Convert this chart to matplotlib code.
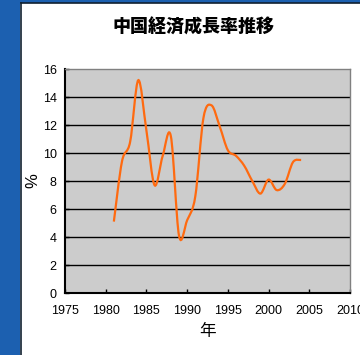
import matplotlib
matplotlib.use("Agg")
import matplotlib.pyplot as plt
from matplotlib.path import Path
from matplotlib.patches import PathPatch, Rectangle
from matplotlib.lines import Line2D

# 中国の実質GDP成長率
years = [1981, 1982, 1983, 1984, 1985, 1986, 1987, 1988, 1989, 1990, 1991, 1992,
         1993, 1994, 1995, 1996, 1997, 1998, 1999, 2000, 2001, 2002, 2003, 2004]
growth = [5.1, 9.4, 10.8, 15.2, 11.6, 7.7, 9.8, 11.2, 4.1, 5.2, 6.9, 12.5,
          13.4, 11.9, 10.2, 9.8, 9.1, 8.0, 7.1, 8.1, 7.35, 7.8, 9.35, 9.5]
xticks = [1975, 1980, 1985, 1990, 1995, 2000, 2005, 2010]
yticks = [0, 2, 4, 6, 8, 10, 12, 14, 16]

title = "中国経済成長率推移"
cjk = ["Noto Sans CJK JP", "DejaVu Sans"]
narrow = ["Liberation Sans Narrow", "Liberation Sans"]


def smooth_path(xs, ys):
    # Excel風のスムージング (ベジェ曲線)
    pts = list(zip(xs, ys))
    n = len(pts)
    verts = [pts[0]]
    codes = [Path.MOVETO]
    for i in range(n - 1):
        p0 = pts[i - 1] if i > 0 else pts[i]
        p1 = pts[i]
        p2 = pts[i + 1]
        p3 = pts[i + 2] if i + 2 < n else pts[i + 1]
        c1 = (p1[0] + (p2[0] - p0[0]) / 6, p1[1] + (p2[1] - p0[1]) / 6)
        c2 = (p2[0] - (p3[0] - p1[0]) / 6, p2[1] - (p3[1] - p1[1]) / 6)
        verts += [c1, c2, p2]
        codes += [Path.CURVE4] * 3
    return Path(verts, codes)


fig = plt.figure(figsize=(3.6, 3.55), dpi=100, facecolor="white")

# 左と上の青い帯
fig.patches.append(Rectangle((0, 0), 20 / 360, 1, transform=fig.transFigure,
                             facecolor="#1c60b0", edgecolor="none", zorder=0))
fig.patches.append(Rectangle((0, 1 - 2.5 / 355), 1, 2.5 / 355, transform=fig.transFigure,
                             facecolor="#1c60b0", edgecolor="none", zorder=0))
fig.lines.append(Line2D([20.8 / 360, 20.8 / 360], [0, 1 - 2.5 / 355], transform=fig.transFigure,
                        color="#102030", lw=1.2))
fig.lines.append(Line2D([20.8 / 360, 1], [1 - 2.8 / 355, 1 - 2.8 / 355], transform=fig.transFigure,
                        color="#102030", lw=1.2))

ax = fig.add_axes([65 / 360, 62 / 355, 285 / 360, 224 / 355])
ax.set_facecolor("#cccccc")
ax.set_xlim(1975, 2010)
ax.set_ylim(0, 16)

for y in yticks[1:-1]:
    ax.axhline(y, color="black", lw=1.0, zorder=1)

ax.add_patch(PathPatch(smooth_path(years, growth), facecolor="none",
                       edgecolor="#ff6a10", lw=1.6, zorder=3))

ax.set_xticks(xticks)
ax.set_yticks(yticks)
ax.set_xticklabels([str(x) for x in xticks], family=narrow, fontsize=9)
ax.set_yticklabels([str(y) for y in yticks], family=narrow, fontsize=9)
ax.tick_params(axis="x", direction="in", length=3, width=1, color="black", pad=9)
ax.tick_params(axis="y", direction="in", length=3, width=1, color="black", pad=6)

for s in ["left", "bottom"]:
    ax.spines[s].set_color("black")
    ax.spines[s].set_linewidth(1.5)
for s in ["top", "right"]:
    ax.spines[s].set_color("#808080")
    ax.spines[s].set_linewidth(1.0)

ax.set_ylabel("%", family=narrow, fontsize=12, labelpad=2)
ax.set_xlabel("年", family=cjk, fontsize=12, labelpad=4)

fig.text(194 / 360, 1 - 27 / 355, title, family=cjk, fontsize=13, fontweight="heavy",
         ha="center", va="center")

fig.savefig("out.png", dpi=100, facecolor="white")
